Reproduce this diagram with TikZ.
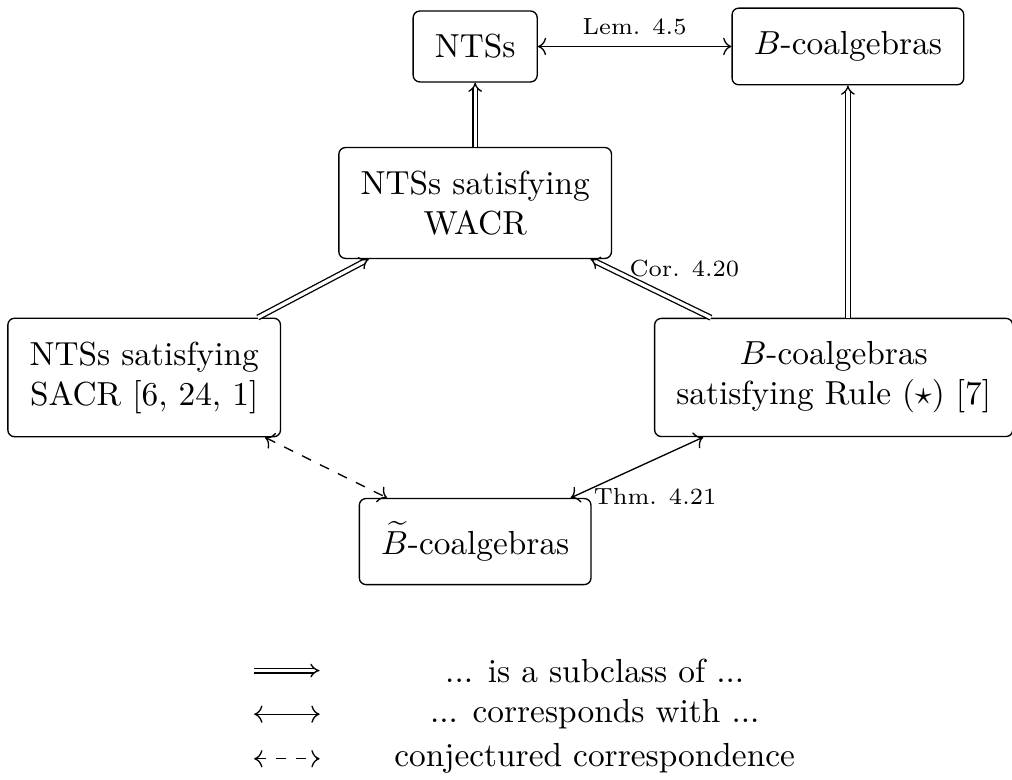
\documentclass[tikz,border=0pt]{standalone}
\usetikzlibrary{arrows.meta}

\begin{document}
\begin{tikzpicture}[
  box/.style={draw, rounded corners=2pt, align=center, inner xsep=6.5pt, inner ysep=7pt},
  subcl/.style={double, double distance=1pt, -{Implies}},
  corr/.style={<->},
  conj/.style={<->, dashed},
  lbl/.style={font=\scriptsize}
]

 \useasboundingbox (0,0) rectangle (10.67,8.22);

  \node[box] (nts) at (5.01,7.73) {NTSs};
  \node[box] (bco) at (8.94,7.73) {$B$-coalgebras};
  \node[box] (wacr) at (5.01,6.08) {NTSs satisfying\\WACR};
  \node[box] (sacr) at (1.52,4.24) {NTSs satisfying\\SACR [6, 24, 1]};
  \node[box] (rule) at (8.79,4.24) {$B$-coalgebras\\satisfying Rule ($\star$) [7]};
  \node[box] (btil) at (5.01,2.51) {$\widetilde{B}$-coalgebras};

    \draw[corr] (nts) -- node[lbl, above] {Lem. 4.5} (bco);
    \draw[subcl] (wacr) -- (nts);
    \draw[subcl] (sacr) -- (wacr);
    \draw[subcl] (rule) -- node[lbl, pos=0.68, anchor=south west, inner sep=0pt] {Cor. 4.20} (wacr);
    \draw[subcl] (rule.north -| bco) -- (bco);
    \draw[corr] (rule) -- node[lbl, pos=0.83, anchor=north west, inner sep=0pt] {Thm. 4.21} (btil);
    \draw[conj] (sacr) -- (btil);

  % legend
    \coordinate (k1a) at (2.68,1.15);
    \coordinate (k1b) at (3.37,1.15);
    \coordinate (k2a) at (2.68,0.69);
    \coordinate (k2b) at (3.37,0.69);
    \coordinate (k3a) at (2.68,0.22);
    \coordinate (k3b) at (3.37,0.22);

    \draw[subcl] (k1a) -- (k1b);
    \draw[corr] (k2a) -- (k2b);
    \draw[conj] (k3a) -- (k3b);

    \node (t1) at (6.27,1.15) {... is a subclass of ...};
    \node (t2) at (6.27,0.69) {... corresponds with ...};
    \node (t3) at (6.27,0.22) {conjectured correspondence};

\end{tikzpicture}
\end{document}
